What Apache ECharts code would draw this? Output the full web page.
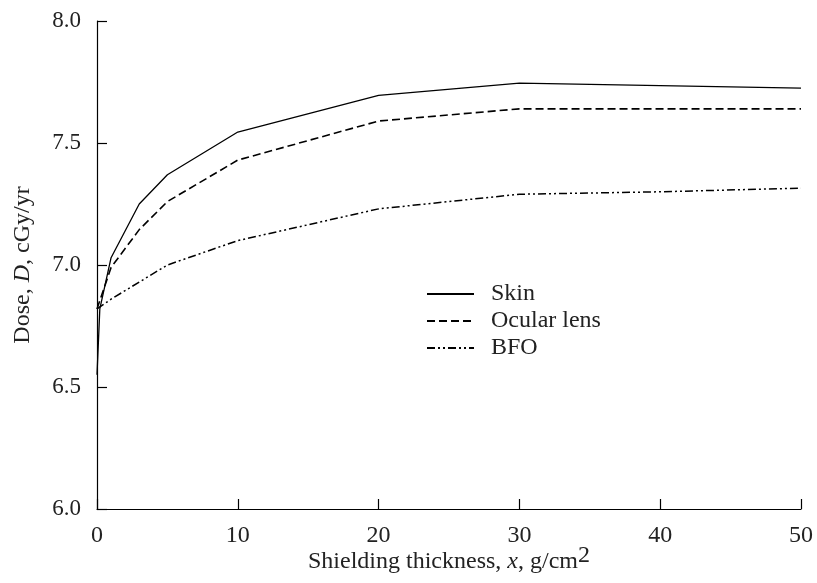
<!DOCTYPE html>
<html>
<head>
<meta charset="utf-8">
<script src="https://cdn.jsdelivr.net/npm/echarts@6/dist/echarts.min.js"></script>
<style>html,body{margin:0;padding:0;background:#fff}#c{width:817px;height:583px}</style>
</head>
<body>
<div id="c"></div>
<script>
var skinData = [[0, 6.55], [0.2, 6.82], [1, 7.03], [3, 7.25], [5, 7.37], [10, 7.545], [20, 7.695], [30, 7.745], [50, 7.725]];
var ocularData = [[0, 6.82], [1, 6.99], [3, 7.145], [5, 7.26], [10, 7.43], [20, 7.59], [30, 7.64], [50, 7.64]];
var bfoData = [[0, 6.82], [1, 6.86], [3, 6.93], [5, 7.0], [10, 7.10], [20, 7.23], [30, 7.29], [40, 7.30], [50, 7.315]];
var seriesNames = ['Skin', 'Ocular lens', 'BFO'];
var xTicks = [0, 10, 20, 30, 40, 50];
var yTicks = [6.0, 6.5, 7.0, 7.5, 8.0];

var FONT = 'Liberation Serif';
var chart = echarts.init(document.getElementById('c'), null, {renderer: 'canvas'});
chart.setOption({
  animation: false,
  backgroundColor: '#fff',
  grid: {left: 97, right: 16, top: 21, bottom: 74, containLabel: false, outerBoundsMode: 'none'},
  legend: {
    orient: 'vertical',
    left: 421, top: 277,
    itemWidth: 47, itemHeight: 14, itemGap: 3,
    data: seriesNames,
    itemStyle: {opacity: 0},
    textStyle: {fontFamily: FONT, fontSize: 24, color: '#222', padding: [0, 0, 0, 12]}
  },
  xAxis: {
    type: 'value', min: 0, max: 50, interval: 10,
    name: 'Shielding thickness, {i|x}, g/cm{sup|2}',
    nameLocation: 'middle', nameGap: 35, nameMoveOverlap: false,
    nameTextStyle: {fontFamily: FONT, fontSize: 24, color: '#222',
      rich: {i: {fontFamily: FONT, fontSize: 24, fontStyle: 'italic', color: '#222'},
             sup: {fontFamily: FONT, fontSize: 24, color: '#222', verticalAlign: 'bottom', padding: [0, 0, 12, 0]}}},
    axisLine: {lineStyle: {color: '#000', width: 1.2}},
    axisTick: {inside: true, length: 10, lineStyle: {color: '#000', width: 1.2}},
    splitLine: {show: false},
    axisLabel: {fontFamily: FONT, fontSize: 24, color: '#222', margin: 15,
      formatter: function (v) { return xTicks.indexOf(v) >= 0 ? String(v) : ''; }}
  },
  yAxis: {
    type: 'value', min: 6.0, max: 8.0, interval: 0.5,
    name: 'Dose, {i|D}, cGy/yr',
    nameLocation: 'middle', nameGap: 62, nameMoveOverlap: false,
    nameTextStyle: {fontFamily: FONT, fontSize: 24, color: '#222',
      rich: {i: {fontFamily: FONT, fontSize: 24, fontStyle: 'italic', color: '#222'}}},
    axisLine: {show: true, lineStyle: {color: '#000', width: 1.2}},
    axisTick: {show: true, inside: true, length: 10, lineStyle: {color: '#000', width: 1.2}},
    splitLine: {show: false},
    axisLabel: {fontFamily: FONT, fontSize: 23, color: '#222', margin: 16,
      formatter: function (v) { return v.toFixed(1); }}
  },
  series: [
    {name: seriesNames[0], type: 'line', data: skinData, symbol: 'none', color: '#000',
     lineStyle: {color: '#000', width: 1.3, type: 'solid'}},
    {name: seriesNames[1], type: 'line', data: ocularData, symbol: 'none', color: '#000',
     lineStyle: {color: '#000', width: 1.6, type: [8, 4]}},
    {name: seriesNames[2], type: 'line', data: bfoData, symbol: 'none', color: '#000',
     lineStyle: {color: '#000', width: 1.5, type: [8, 3, 2, 3, 2, 3]}}
  ]
});
</script>
</body>
</html>
